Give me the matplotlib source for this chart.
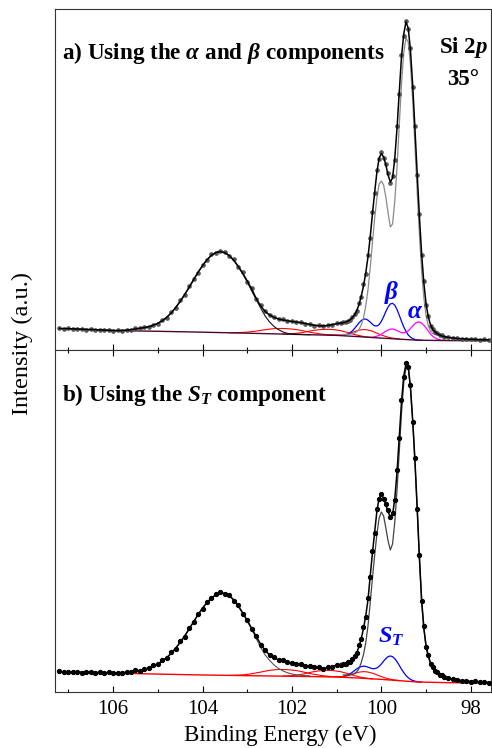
import numpy as np
import matplotlib
matplotlib.use("Agg")
import matplotlib.pyplot as plt
from matplotlib.ticker import MultipleLocator

plt.rcParams["font.family"] = ["Liberation Serif", "DejaVu Serif"]
plt.rcParams["mathtext.fontset"] = "custom"
plt.rcParams["mathtext.rm"] = "Liberation Serif:bold"
plt.rcParams["mathtext.it"] = "Liberation Serif:italic:bold"
plt.rcParams["mathtext.bf"] = "Liberation Serif:bold"

# binding energy grid (eV): 0.1 eV steps, 0.05 eV across the Si 2p peak
be = np.concatenate([np.linspace(107.2, 100.9, 64),
                     np.linspace(100.85, 98.60, 46),
                     np.linspace(98.5, 97.6, 10)])

# background (Shirley-like), coarse points
be_bg = [107.2, 106.0, 105.0, 104.0, 103.0, 102.0, 101.0, 100.5, 100.0, 99.5, 99.2, 98.5, 97.6]
bg_a = [21.3, 19.4, 18.7, 17.8, 16.8, 15.7, 14.6, 13.3, 11.9, 10.6, 9.8, 9.4, 9.2]
bg_b = [20.0, 18.9, 17.9, 17.0, 16.3, 15.7, 15.0, 13.9, 12.6, 11.0, 10.0, 9.3, 9.0]

# ---- panel a: alpha / beta fit ----
env_a = [21.5, 21.4, 21.3, 21.1, 21.0, 20.8, 20.6, 20.5, 20.3, 20.1, 19.9, 19.7, 19.5, 19.4, 19.5, 19.8,
         20.3, 21.0, 21.7, 22.4, 23.3, 24.8, 26.7, 29.3, 32.7, 37.1, 42.5, 48.6, 55.4, 62.7, 70.3, 77.7,
         84.4, 90.3, 94.7, 97.5, 98.4, 97.3, 94.3, 89.7, 83.6, 76.6, 69.0, 61.0, 51.5, 44.0, 38.5, 35.0,
         32.5, 31.0, 30.0, 29.2, 28.6, 28.0, 27.3, 26.5, 25.6, 24.8, 24.2, 24.0, 24.5, 25.4, 26.3, 27.0,
         27.3, 27.9, 28.8, 30.2, 32.2, 35.0, 39.5, 45.5, 54, 64, 77, 93, 113, 136, 158, 178, 192, 196.5,
         193, 185, 175, 168, 172, 192, 222, 258, 293, 316, 328, 322, 300, 265, 222, 177, 134, 96, 67, 46,
         33, 25, 20.5, 18, 16.3, 15.1, 14.1, 13.4,
         12.6, 12.0, 11.5, 11.2, 10.9, 10.7, 10.5, 10.3, 10.2, 10.1]
dots_a = [22.0, 21.1, 21.6, 20.6, 21.4, 20.9, 20.1, 21.0, 20.1, 20.4, 19.5, 20.1, 19.2, 19.6, 19.1, 20.3,
          20.0, 21.6, 21.5, 22.9, 22.9, 25.4, 26.2, 30.1, 32.1, 38.1, 41.7, 49.5, 54.7, 63.7, 70.7, 76.8,
          85.2, 89.8, 95.6, 97.1, 99.2, 97.8, 93.7, 90.7, 83.1, 77.5, 68.4, 61.8, 51.1, 44.7, 38.8, 34.6,
          33.0, 30.7, 30.6, 28.8, 28.9, 27.5, 27.7, 26.2, 26.1, 24.4, 24.5, 23.5, 24.9, 25.2, 26.8, 26.7,
          27.7, 27.6, 29.3, 29.8, 32.8, 35.8, 39.0, 46.5, 53.0, 65.5, 76.0, 94.5, 111.5, 138, 157, 180,
          191, 197.5, 192, 186, 177, 167, 173.5, 190, 224, 256, 295, 314, 329, 321, 302, 263, 224, 175,
          136, 94.5, 68.5, 45, 34, 24.3, 21.1, 17.6, 16.8, 14.8, 14.5, 13.1,
          13.0, 11.7, 11.8, 10.8, 11.2, 10.5, 10.9, 10.0, 10.5, 9.9]
sio2_a = [19.5, 19.8, 20.3, 21.0, 21.7, 22.4, 23.3, 24.8, 26.7, 29.3, 32.7, 37.1, 42.5, 48.6, 55.4,
          62.7, 70.3, 77.7, 84.4, 90.3, 94.7, 97.5, 98.4, 97.3, 94.2, 89.5, 83.3, 76.0, 68.0, 59.0, 50.5,
          42.0, 34.0, 28.0, 23.5, 20.3, 18.0, 16.6, 16.0, 15.7, 15.5, 15.4, 15.3]  # from 105.8 eV
bulk_a = [15.5, 15.5, 15.6, 15.8, 16.2, 16.9, 18.2, 20.5, 25, 32, 44, 60, 82, 107, 132, 152, 166, 169,
          165, 153, 137, 123, 126, 149, 183, 225, 266, 297, 312, 308, 286, 250, 205, 159, 116, 79, 52,
          34, 24, 18.6, 16.4, 15.5, 14.9, 14.4, 13.8, 13.3,
          12.5, 11.9, 11.4, 11.0, 10.7, 10.5, 10.3, 10.1, 10.0, 9.9]  # from 100.85 eV
sub3_a = [17.3, 17.3, 17.4, 17.6, 17.9, 18.4, 18.9, 19.6, 20.3, 20.9, 21.3, 21.5, 21.5, 21.3, 20.9,
          20.4, 19.6, 18.7, 17.8, 17.0, 16.3, 15.7, 15.3, 15.0, 14.75, 14.55]  # from 103.4 eV
sub2_a = [16.0, 16.1, 16.3, 16.7, 17.2, 18.0, 18.9, 19.7, 20.3, 20.6, 20.7, 20.5, 20.0, 19.3, 18.6,
          18.1, 17.4, 16.8, 16.2, 15.5, 15.0, 14.5, 14.0, 13.6, 13.2, 12.95, 12.75, 12.45]  # from 102.2 eV
sub1_a = [14.9, 14.9, 14.95, 14.95, 15.0, 15.4, 15.9, 16.7, 17.6, 18.4, 19.2, 19.9, 20.2, 20.4, 20.3,
          20.0, 19.5, 18.7, 17.8, 16.9, 15.9, 15.0, 14.2, 13.5, 12.8, 12.3, 11.9, 11.6, 11.25, 11.0]  # from 101.2 eV
beta_a = [14.7, 15.1, 15.8, 17.2, 19.1, 21.5, 24.3, 27.2, 29.4, 30.8, 30.9, 29.8, 27.9, 25.7, 24.2,
          24.0, 25.4, 28.7, 33.3, 38.5, 43.0, 46.0, 46.7, 44.8, 40.5, 34.8, 28.8, 23.1, 18.6, 15.1, 12.9,
          11.4, 10.55, 10.1, 9.9, 9.75]  # from 100.85 eV
alpha_a = [12.9, 13.2, 13.8, 14.6, 15.8, 17.3, 18.8, 20.0, 20.8, 21.0, 20.5, 19.4, 18.3, 17.4, 17.1,
           17.7, 19.1, 21.3, 23.9, 26.25, 27.7, 28.0, 26.95, 24.8, 22.0, 18.85, 16.0, 13.7, 12.1, 10.95,
           10.2, 9.8, 9.6]  # from 100.20 eV

# ---- panel b: single S_T component ----
env_b = [20.3, 20.2, 20.1, 20.0, 19.9, 19.8, 19.7, 19.6, 19.5, 19.4, 19.3, 19.2, 19.1, 19.1, 19.3, 19.7,
         20.2, 20.9, 21.6, 22.6, 24.0, 25.8, 28.0, 30.9, 34.4, 38.7, 43.8, 49.6, 56.0, 63.0, 70.2, 77.3,
         83.8, 89.5, 94.0, 97.3, 98.9, 98.6, 96.3, 92.0, 86.0, 79.0, 71.5, 63.6, 55.5, 47.8, 41.5, 37.0,
         34.0, 32.2, 31.0, 30.0, 29.0, 28.0, 27.0, 26.3, 25.7, 25.0, 24.2, 23.8, 24.3, 25.5, 26.8, 27.5,
         27.9, 28.3, 29.0, 30.3, 32.0, 34.8, 39.5, 45.5, 53.5, 63.5, 76, 92, 116, 139, 160, 181, 194, 197,
         194, 187, 180, 175.5, 177, 193, 220, 255, 290, 316, 328, 326, 305, 272, 232, 185, 135, 92, 64, 46,
         36, 29, 24.5, 21.5, 19.3, 17.6, 16.3, 15.3,
         13.8, 12.8, 12.0, 11.4, 11.0, 10.6, 10.3, 10.0, 9.8, 9.6]
dots_b = [20.7, 19.8, 20.4, 19.8, 20.4, 19.4, 19.9, 20.1, 19.1, 19.7, 19.0, 19.6, 18.7, 19.4, 19.0, 20.2,
          20.0, 21.6, 21.2, 23.4, 23.8, 26.7, 27.5, 31.9, 34.0, 39.9, 43.2, 50.6, 55.2, 64.2, 69.7, 78.3,
          83.0, 90.3, 93.5, 98.3, 99.7, 98.1, 97.2, 91.3, 87.0, 78.4, 72.3, 63.1, 56.4, 47.4, 42.1, 36.7,
          34.5, 31.8, 31.5, 29.7, 29.4, 27.6, 27.5, 26.0, 26.1, 24.6, 24.5, 23.4, 24.8, 25.2, 27.3, 27.3,
          28.4, 28.0, 29.6, 29.9, 32.7, 35.7, 39.1, 46.7, 52.7, 65.0, 75, 93.5, 114.5, 141, 159, 183, 193,
          198, 192.5, 188, 181.5, 175, 178.5, 191.5, 222, 254, 292, 315, 329, 325, 306.5, 270, 234, 183,
          137, 90.5, 65.5, 45, 37.2, 28.4, 25.1, 21.1, 19.8, 17.3, 16.7, 15.0,
          14.2, 12.5, 12.3, 11.1, 11.3, 10.4, 10.6, 9.8, 10.1, 9.4]
sio2_b = [19.3, 19.7, 20.2, 20.9, 21.6, 22.6, 24.0, 25.8, 28.0, 30.9, 34.4, 38.7, 43.8, 49.6, 56.0,
          63.0, 70.2, 77.3, 83.8, 89.5, 94.0, 97.3, 98.9, 98.6, 96.2, 91.8, 85.7, 78.5, 71.0, 62.5, 53.5,
          44.5, 37.0, 31.5, 27.0, 23.5, 21.0, 19.2, 18.0, 17.2, 16.7, 16.4, 16.2]  # from 105.8 eV
bulk_b = [17.0, 17.0, 17.1, 17.3, 17.7, 18.5, 20.2, 23.5, 29.5, 37.5, 49, 66, 89, 114, 137, 158, 174,
          180, 176, 164, 151, 142, 148, 170, 202, 240, 279, 309, 324, 324, 304, 271, 231, 184, 134, 91,
          63, 45, 35, 28, 23.5, 20.5, 18.5, 16.8, 15.6, 14.7,
          13.3, 12.4, 11.7, 11.1, 10.7, 10.3, 10.0, 9.7, 9.5, 9.4]  # from 100.85 eV
sub3_b = [16.6, 16.65, 16.9, 17.1, 17.6, 18.2, 19.1, 19.9, 20.8, 21.6, 22.1, 22.5, 22.5, 22.3, 21.9,
          21.4, 20.5, 19.5, 18.5, 17.6, 16.9, 16.2, 15.7, 15.45, 15.2, 14.95]  # from 103.4 eV
sub2_b = [15.9, 16.0, 16.4, 16.8, 17.5, 18.4, 19.5, 20.4, 21.1, 21.5, 21.6, 21.5, 20.9, 20.2, 19.5,
          19.0, 18.4, 17.6, 17.0, 16.3, 15.8, 15.2, 14.7, 14.3, 13.9, 13.6, 13.35, 13.15]  # from 102.2 eV
sub1_b = [15.2, 15.3, 15.3, 15.45, 15.4, 15.8, 16.3, 16.9, 17.7, 18.5, 19.2, 19.8, 20.1, 20.3, 20.25,
          19.9, 19.4, 18.8, 18.0, 17.1, 16.2, 15.4, 14.6, 13.9, 13.3, 12.7, 12.35, 11.95, 11.7, 11.4]  # from 101.2 eV
st_b = [15.7, 16.2, 17.1, 18.2, 19.7, 21.4, 23.1, 24.5, 25.4, 25.8, 25.6, 24.8, 24.0, 23.3, 23.3, 24.0,
        25.6, 28.0, 30.8, 33.4, 35.3, 36.0, 35.3, 33.3, 30.3, 26.6, 22.9, 19.4, 16.5, 14.3, 12.6, 11.5,
        10.8, 10.3, 10.05, 9.9]  # from 100.85 eV


def span(e0, vals):
    i = int(np.argmin(np.abs(be - e0)))
    return be[i:i + len(vals)], np.asarray(vals)


RED, BLUE, MAG = "#ff0000", "#0000ff", "#ff00ff"

fig = plt.figure(figsize=(4.92, 7.48), dpi=100)
ax_a = fig.add_axes([0.1118, 0.5321, 0.886, 0.4552])
ax_b = fig.add_axes([0.1118, 0.0749, 0.886, 0.4572])

# panel a
for vals, e0 in [(sub3_a, 103.4), (sub2_a, 102.2), (sub1_a, 101.2)]:
    ax_a.plot(*span(e0, vals), color=RED, lw=0.8, zorder=2)
ax_a.plot(*span(100.85, beta_a), color=BLUE, lw=0.9, zorder=2)
ax_a.plot(*span(100.20, alpha_a), color=MAG, lw=0.9, zorder=2)
ax_a.plot(be_bg, bg_a, color="#4a0830", lw=1.0, zorder=3)
ax_a.plot(*span(100.85, bulk_a), color="#8a8a8a", lw=0.9, zorder=3)
ax_a.plot(*span(105.8, sio2_a), color="#111111", lw=0.8, zorder=3)
ax_a.plot(be, dots_a, "o", ms=2.8, color="#5a5a5a", mec="#444444", mew=0.4, zorder=4)
ax_a.plot(be, env_a, color="black", lw=1.1, zorder=5)
ax_a.set_ylim(0, 340.5)

ax_a.text(0.016, 0.872, r"a) Using the $\alpha$ and $\beta$ components", transform=ax_a.transAxes,
          fontsize=16.7, fontweight="bold", ha="left", va="center")
ax_a.text(0.938, 0.887, r"Si 2$p$", transform=ax_a.transAxes, fontsize=16.5, fontweight="bold",
          ha="center", va="center")
ax_a.text(0.936, 0.793, "35°", transform=ax_a.transAxes, fontsize=16.5, fontweight="bold",
          ha="center", va="center")
ax_a.text(99.77, 57, r"$\beta$", color=BLUE, fontsize=18, ha="center", va="center")
ax_a.text(99.24, 38, r"$\alpha$", color=BLUE, fontsize=18, ha="center", va="center")

# panel b
ax_b.plot(*span(100.85, st_b), color=BLUE, lw=0.9, zorder=2)
ax_b.plot(be_bg, bg_b, color=RED, lw=1.0, zorder=3)
for vals, e0 in [(sub3_b, 103.4), (sub2_b, 102.2), (sub1_b, 101.2)]:
    ax_b.plot(*span(e0, vals), color=RED, lw=0.8, zorder=3)
ax_b.plot(*span(100.85, bulk_b), color="#444444", lw=0.9, zorder=3)
ax_b.plot(*span(105.8, sio2_b), color="#555555", lw=0.8, zorder=3)
ax_b.plot(be, dots_b, "o", ms=2.8, color="black", zorder=4)
ax_b.plot(be, env_b, color="black", lw=1.1, zorder=5)
ax_b.set_ylim(0, 342)

ax_b.text(0.016, 0.868, r"b) Using the $S_T$ component", transform=ax_b.transAxes,
          fontsize=16.7, fontweight="bold", ha="left", va="center")
ax_b.text(99.79, 55, r"$S_T$", color=BLUE, fontsize=17.5, ha="center", va="center")

for ax in (ax_a, ax_b):
    ax.set_xlim(107.3, 97.55)
    ax.xaxis.set_major_locator(MultipleLocator(2))
    ax.xaxis.set_minor_locator(MultipleLocator(1))
    ax.set_yticks([])
    ax.tick_params(axis="x", which="major", direction="in", length=4.5, width=0.8,
                   labelsize=15, pad=6)
    ax.tick_params(axis="x", which="minor", direction="in", length=2.5, width=0.8)
    for sp in ax.spines.values():
        sp.set_color("#333333")
        sp.set_linewidth(0.8)

ax_a.tick_params(axis="x", which="both", top=False, bottom=True, labelbottom=False)
ax_b.tick_params(axis="x", which="both", top=True, bottom=True)

fig.text(0.57, 0.017, "Binding Energy (eV)", fontsize=16.5, ha="center", va="center")
fig.text(0.0447, 0.5414, "Intensity (a.u.)", fontsize=17.5, rotation=90, ha="center", va="center")

fig.savefig("out.png", dpi=100)
